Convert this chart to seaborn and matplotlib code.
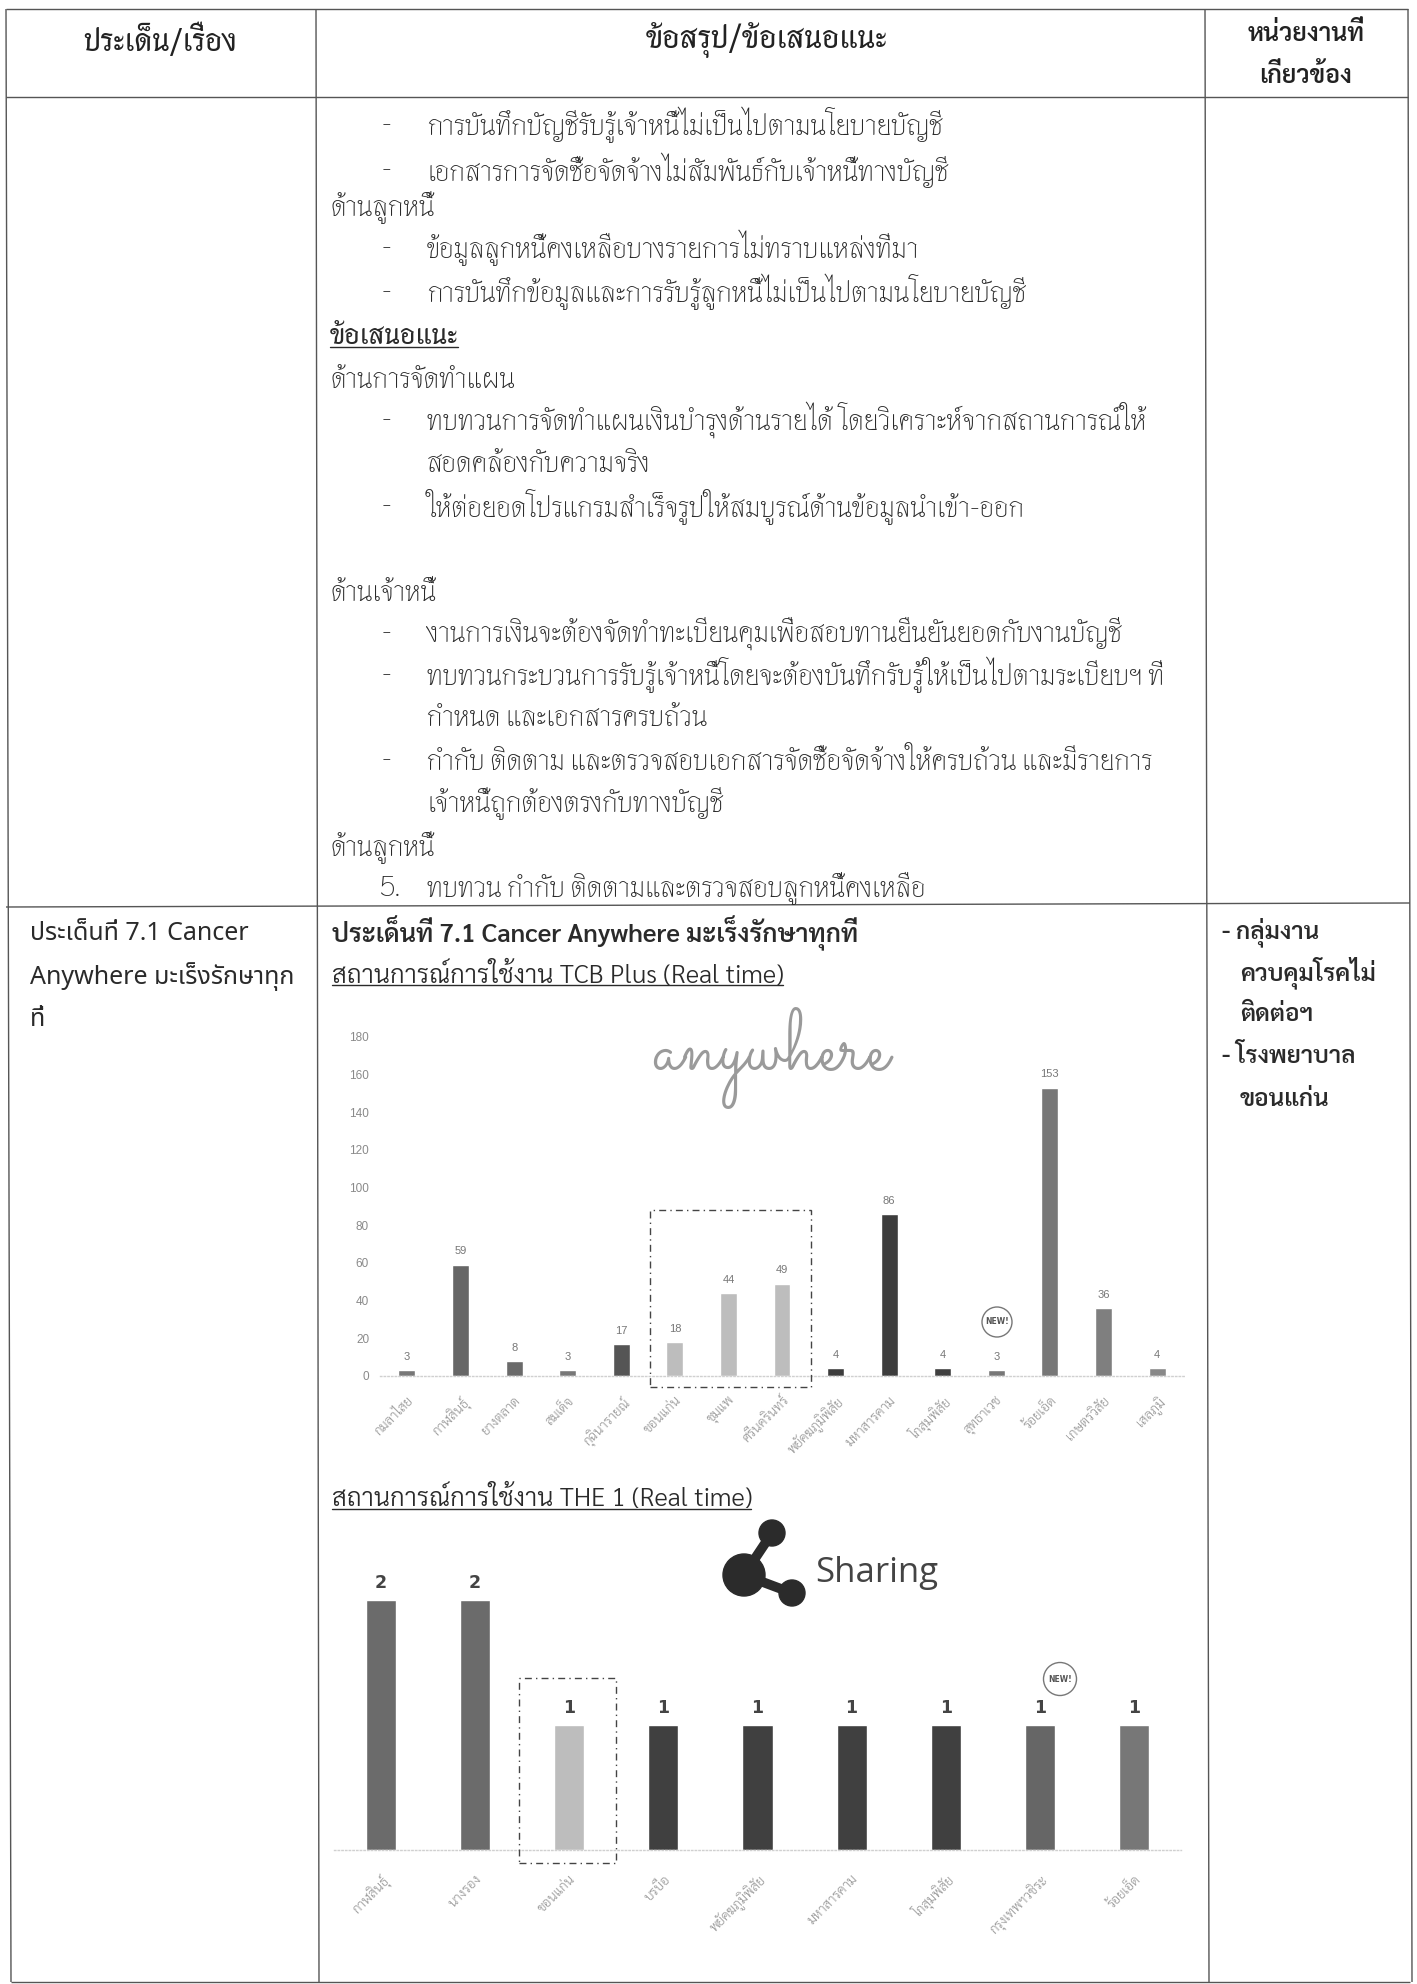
import matplotlib
matplotlib.use("Agg")
import matplotlib.pyplot as plt
from matplotlib.patches import Circle, Ellipse, Rectangle
import pandas as pd
import seaborn as sns

W, H = 1417, 1984

# TCB Plus usage by hospital
tcb_sites = ["กมลาไสย", "กาฬสินธุ์", "ยางตลาด", "สมเด็จ", "กุฉินารายณ์", "ขอนแก่น", "ชุมแพ", "ศรีนครินทร์",
             "พยัคฆภูมิพิสัย", "มหาสารคาม", "โกสุมพิสัย", "สุทธาเวช", "ร้อยเอ็ด", "เกษตรวิสัย", "เสลภูมิ"]
tcb_counts = [3, 59, 8, 3, 17, 18, 44, 49, 4, 86, 4, 3, 153, 36, 4]
tcb_colors = ["#777777", "#666666", "#6a6a6a", "#777777", "#555555", "#bdbdbd", "#bdbdbd", "#bdbdbd",
              "#3c3c3c", "#3d3d3d", "#3f3f3f", "#777777", "#777777", "#7f7f7f", "#888888"]
tcb_ticks = [0, 20, 40, 60, 80, 100, 120, 140, 160, 180]

# THE 1 usage by hospital
the1_sites = ["กาฬสินธุ์", "นางรอง", "ขอนแก่น", "บรบือ", "พยัคฆภูมิพิสัย", "มหาสารคาม", "โกสุมพิสัย",
              "กรุงเทพฯวชิระ", "ร้อยเอ็ด"]
the1_counts = [2, 2, 1, 1, 1, 1, 1, 1, 1]
the1_colors = ["#6b6b6b", "#6b6b6b", "#bdbdbd", "#404040", "#404040", "#404040", "#404040", "#666666", "#777777"]

BODY = ["Thasadith", "Sarabun", "DejaVu Sans"]
TH = ["Sarabun", "DejaVu Sans"]
UI = ["Noto Sans Thai", "Sarabun", "DejaVu Sans"]
INK = "#2a2a2a"

sns.set_theme(style="white")
plt.rcParams["font.family"] = TH

fig = plt.figure(figsize=(W / 100, H / 100), dpi=100, facecolor="white")
page = fig.add_axes([0, 0, 1, 1])
page.set_xlim(0, W)
page.set_ylim(H, 0)
page.axis("off")

# Table rules
rules = [((6, 9), (1408, 9)), ((6, 97), (1408, 97)), ((6, 907), (1410, 903)), ((11, 1982), (1410, 1982)),
         ((6, 9), (11, 1982)), ((316, 9), (319, 1982)), ((1205, 9), (1209, 1982)), ((1408, 9), (1412, 1982))]
for a, b in rules:
    page.plot([a[0], b[0]], [a[1], b[1]], color="#555555", lw=1.0, solid_capstyle="butt")


def put(x, y, s, size=20.4, weight=400, ha="left", family=BODY, color=INK):
    page.text(x, y, s, fontsize=size, fontweight=weight, ha=ha, va="center", family=family, color=color)


def underline(x0, x1, y):
    page.plot([x0, x1], [y, y], color=INK, lw=1.0)


# Header row
put(160, 40, "ประเด็น/เรื่อง", size=22.5, weight=700, ha="center", color="#222222")
put(767, 40, "ข้อสรุป/ข้อเสนอแนะ", size=23, weight=700, ha="center", color="#222222")
put(1306, 35, "หน่วยงานที่", size=18, weight=600, ha="center", family=TH, color="#222222")
put(1306, 77, "เกี่ยวข้อง", size=18, weight=600, ha="center", family=TH, color="#222222")

# Body of the upper row: (y, text) with a leading dash, or section headings
dashed = [(125, "การบันทึกบัญชีรับรู้เจ้าหนี้ไม่เป็นไปตามนโยบายบัญชี"),
          (170, "เอกสารการจัดซื้อจัดจ้างไม่สัมพันธ์กับเจ้าหนี้ทางบัญชี"),
          (248, "ข้อมูลลูกหนี้คงเหลือบางรายการไม่ทราบแหล่งที่มา"),
          (292, "การบันทึกข้อมูลและการรับรู้ลูกหนี้ไม่เป็นไปตามนโยบายบัญชี"),
          (420, "ทบทวนการจัดทำแผนเงินบำรุงด้านรายได้ โดยวิเคราะห์จากสถานการณ์ให้"),
          (506, "ให้ต่อยอดโปรแกรมสำเร็จรูปให้สมบูรณ์ด้านข้อมูลนำเข้า-ออก"),
          (633, "งานการเงินจะต้องจัดทำทะเบียนคุมเพื่อสอบทานยืนยันยอดกับงานบัญชี"),
          (675, "ทบทวนกระบวนการรับรู้เจ้าหนี้โดยจะต้องบันทึกรับรู้ให้เป็นไปตามระเบียบฯ ที่"),
          (760, "กำกับ ติดตาม และตรวจสอบเอกสารจัดซื้อจัดจ้างให้ครบถ้วน และมีรายการ")]
continued = [(463, "สอดคล้องกับความจริง"), (718, "กำหนด และเอกสารครบถ้วน"),
             (803, "เจ้าหนี้ถูกต้องตรงกับทางบัญชี"), (888, "ทบทวน กำกับ ติดตามและตรวจสอบลูกหนี้คงเหลือ")]
sections = [(208, "ด้านลูกหนี้"), (379, "ด้านการจัดทำแผน"), (592, "ด้านเจ้าหนี้"), (847, "ด้านลูกหนี้")]

for y, s in dashed:
    put(382, y, "-")
    put(427, y, s)
for y, s in continued:
    put(427, y, s)
for y, s in sections:
    put(330, y, s)
put(380, 888, "5.")
put(330, 336, "ข้อเสนอแนะ", weight=700)
underline(330, 458, 347)

# Lower row
for y, s in [(933, "ประเด็นที่ 7.1 Cancer"), (977, "Anywhere มะเร็งรักษาทุก"), (1020, "ที่")]:
    put(30, y, s, size=18, family=UI)
put(332, 933, "ประเด็นที่ 7.1 Cancer Anywhere มะเร็งรักษาทุกที่", size=18.5, weight=600, family=TH)
put(332, 975, "สถานการณ์การใช้งาน TCB Plus (Real time)", size=18.5, weight=300, family=TH)
underline(332, 783, 985)
put(332, 1498, "สถานการณ์การใช้งาน THE 1 (Real time)", size=18.5, weight=300, family=TH)
underline(332, 751, 1509)
put(1222, 932, "- กลุ่มงาน", size=17.5, weight=600, family=TH)
put(1240, 973, "ควบคุมโรคไม่", size=17.5, weight=600, family=TH)
put(1240, 1015, "ติดต่อฯ", size=17.5, weight=600, family=TH)
put(1222, 1057, "- โรงพยาบาล", size=17.5, weight=600, family=TH)
put(1240, 1100, "ขอนแก่น", size=17.5, weight=600, family=TH)

# Decorative wordmarks above the charts
put(652, 1060, "anywhere", size=62, family=["Sacramento", "DejaVu Serif"], color="#9a9a9a")
page.plot([744, 772], [1575, 1533], color="#2b2b2b", lw=7, solid_capstyle="round")
page.plot([744, 792], [1575, 1593], color="#2b2b2b", lw=7, solid_capstyle="round")
for x, y, r in [(744, 1575, 21), (772, 1533, 13), (792, 1593, 13)]:
    page.add_patch(Circle((x, y), r, color="#2b2b2b"))
put(815, 1573, "Sharing", size=25, family=["Open Sans", "DejaVu Sans"], color="#444444")


def chart_axes(left, top, right, bottom):
    return fig.add_axes([left / W, 1 - bottom / H, (right - left) / W, (bottom - top) / H], facecolor="none")


def draw_bars(ax, sites, counts, colors, bar_width):
    frame = pd.DataFrame({"site": sites, "count": counts})
    sns.barplot(data=frame, x="site", y="count", hue="site", palette=dict(zip(sites, colors)),
                width=bar_width, saturation=1, legend=False, ax=ax)
    ax.set_xlabel("")
    ax.set_ylabel("")
    sns.despine(ax=ax, left=True)
    ax.spines["bottom"].set_color("#d0d0d0")
    ax.spines["bottom"].set_linestyle(":")
    ax.spines["bottom"].set_linewidth(1.0)


def highlight(ax, x0, x1, y0, y1):
    ax.add_patch(Rectangle((x0, y0), x1 - x0, y1 - y0, fill=False, edgecolor="#444444", lw=1.0,
                           linestyle=(0, (5, 3, 1, 3)), clip_on=False, zorder=5))


def new_badge(x, y, r):
    page.add_patch(Ellipse((x, y), 2 * r, 2 * r, facecolor="white", edgecolor="#777777", lw=1.0))
    page.text(x, y, "NEW!", fontsize=5.5, fontweight="bold", ha="center", va="center",
              family=["DejaVu Sans"], color="#555555")


# TCB Plus chart
ax1 = chart_axes(380.2, 1036.7, 1183.8, 1376)
draw_bars(ax1, tcb_sites, tcb_counts, tcb_colors, 0.317)
ax1.set_xlim(-0.5, len(tcb_sites) - 0.5)
ax1.set_ylim(0, 180)
ax1.set_yticks(tcb_ticks)
ax1.tick_params(axis="y", length=0, pad=8, labelsize=8.5, labelcolor="#8a8a8a")
ax1.tick_params(axis="x", length=0, pad=13)
for label in ax1.get_xticklabels():
    label.set(rotation=45, ha="right", rotation_mode="anchor", fontsize=9.5, color="#9c9c9c", fontweight=300)
for label in ax1.get_yticklabels():
    label.set_family(["Liberation Sans", "DejaVu Sans"])
for bars in ax1.containers:
    ax1.bar_label(bars, fmt="%d", padding=6, fontsize=8, color="#777777", family=["Liberation Sans", "DejaVu Sans"])
highlight(ax1, 4.53, 7.54, -5.8, 87.8)
new_badge(997, 1322, 15)

# THE 1 chart
ax2 = chart_axes(334, 1600, 1181, 1850)
draw_bars(ax2, the1_sites, the1_counts, the1_colors, 0.32)
ax2.set_xlim(-0.5, len(the1_sites) - 0.5)
ax2.set_ylim(0, 2)
ax2.set_yticks([])
ax2.tick_params(axis="x", length=0, pad=16)
for label in ax2.get_xticklabels():
    label.set(rotation=45, ha="right", rotation_mode="anchor", fontsize=9.5, color="#9c9c9c", fontweight=300)
for bars in ax2.containers:
    ax2.bar_label(bars, fmt="%d", padding=6, fontsize=12.5, fontweight="bold", color="#444444",
                  family=["DejaVu Sans"])
highlight(ax2, 1.47, 2.5, -0.104, 1.376)
new_badge(1060, 1679, 16.5)

fig.savefig("out.png", dpi=100, facecolor="white")
